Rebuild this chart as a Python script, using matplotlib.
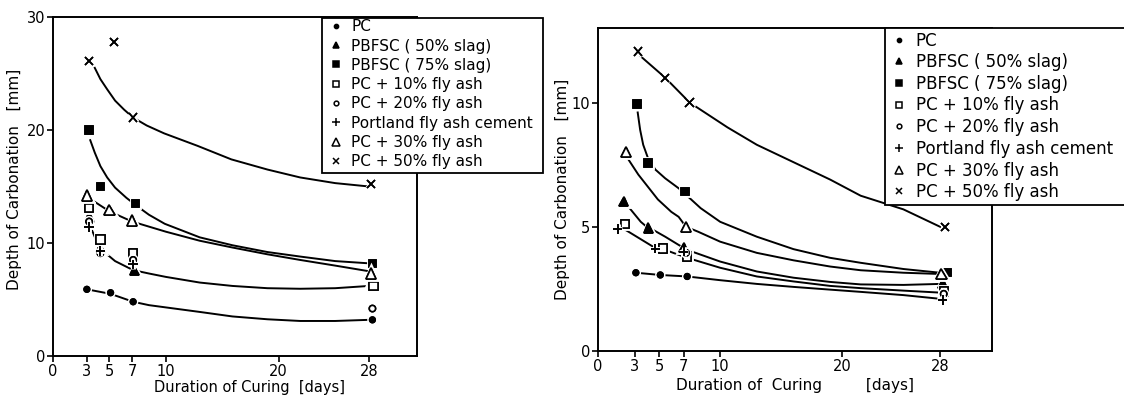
import matplotlib
matplotlib.use("Agg")
import matplotlib.pyplot as plt
import matplotlib.patheffects as pe
from matplotlib.lines import Line2D
from matplotlib.patches import Rectangle

# series names, same order in both panels
labels = ["PC", "PBFSC ( 50% slag)", "PBFSC ( 75% slag)", "PC + 10% fly ash",
          "PC + 20% fly ash", "Portland fly ash cement", "PC + 30% fly ash",
          "PC + 50% fly ash"]

# left panel: measured points (days, depth mm)
left_x = [[3.0, 5.1, 7.1, 28.3],
          [3.2, 4.2, 7.2, 28.3],
          [3.2, 4.2, 7.3, 28.3],
          [3.2, 4.2, 7.1, 28.4],
          [3.2, 4.2, 7.1, 28.3],
          [3.2, 4.2, 7.1],
          [3.0, 5.0, 7.0, 28.2],
          [3.2, 5.4, 7.1, 28.2]]
left_y = [[5.9, 5.6, 4.8, 3.2],
          [12.3, 9.5, 7.6, 6.7],
          [20.0, 15.0, 13.5, 8.2],
          [13.1, 10.3, 9.1, 6.2],
          [11.9, 9.1, 8.5, 4.2],
          [11.4, 9.3, 8.1],
          [14.2, 12.9, 12.0, 7.3],
          [26.1, 27.8, 21.1, 15.2]]

# left panel: fitted curves
left_fit_d = [[3.0, 5.1, 7.1, 8.5, 10, 13, 15.9, 19, 21.9, 25, 28],
              [3.3, 3.8, 4.3, 5.5, 7.1, 8.5, 10, 13, 15.9, 19, 21.9, 25, 28],
              [3.3, 3.7, 4.2, 4.8, 5.5, 6.5, 7.4, 8.5, 9.9, 13, 15.9, 19, 21.9, 25, 28],
              [3.3, 5.0, 7.0, 10, 13, 15.9, 19, 21.9, 25, 28],
              [3.7, 4.2, 4.8, 5.5, 6.3, 7.1, 8.3, 9.85, 12.8, 15.8, 19, 21.9, 25, 28]]
left_fit_v = [[5.9, 5.5, 4.8, 4.5, 4.3, 3.9, 3.5, 3.25, 3.1, 3.1, 3.2],
              [11.5, 10.3, 9.4, 8.4, 7.6, 7.3, 7.0, 6.5, 6.2, 6.0, 5.95, 6.0, 6.2],
              [19.1, 18.0, 16.8, 15.8, 14.9, 14.0, 13.3, 12.5, 11.7, 10.5, 9.8, 9.2, 8.8, 8.4, 8.2],
              [13.9, 12.8, 11.9, 11.0, 10.2, 9.6, 9.0, 8.5, 8.0, 7.5],
              [25.5, 24.5, 23.6, 22.6, 21.8, 21.1, 20.4, 19.7, 18.6, 17.4, 16.5, 15.8, 15.3, 15.0]]

# right panel: measured points
right_x = [[3.1, 5.1, 7.3, 28.2],
           [2.1, 4.1, 7.0, 28.2],
           [3.2, 4.1, 7.1, 28.6],
           [2.2, 5.3, 7.3, 28.3],
           [7.2, 28.3],
           [1.6, 4.7, 7.0, 28.2],
           [2.3, 7.2, 28.1],
           [3.25, 5.5, 7.5, 28.4]]
right_y = [[3.15, 3.06, 3.0, 2.1],
           [6.0, 4.95, 4.15, 2.73],
           [9.95, 7.57, 6.42, 3.16],
           [5.1, 4.12, 3.8, 2.4],
           [3.95, 2.3],
           [4.9, 4.12, 4.0, 2.05],
           [8.0, 5.0, 3.1],
           [12.06, 11.0, 10.0, 5.0]]

right_fit_d = [[3.1, 5.1, 7.3, 10, 13, 16, 19, 21.5, 25, 28],
               [1.8, 2.5, 3.5, 4.5, 5.5, 6.6, 7.3, 10, 13, 16, 19, 21.5, 25, 28],
               [2.1, 2.5, 3.5, 4.1, 4.6, 5.5, 6.6, 7.3, 10, 13, 16, 19, 21.5, 25, 28],
               [2.5, 3.3, 4.1, 4.9, 6.0, 6.6, 7.2, 8.2, 10, 13, 16, 19, 21.5, 25, 28],
               [3.25, 3.45, 3.7, 4.1, 4.7, 5.5, 6.6, 7.4, 8.4, 10, 13, 16, 19, 21.5, 25, 28],
               [3.4, 5.5, 7.5, 10.6, 13, 16, 19, 21.5, 25, 28]]
right_fit_v = [[3.15, 3.06, 3.0, 2.85, 2.7, 2.58, 2.47, 2.38, 2.25, 2.1],
               [5.0, 4.8, 4.5, 4.2, 4.07, 3.87, 3.75, 3.35, 3.0, 2.8, 2.62, 2.53, 2.43, 2.35],
               [6.0, 5.8, 5.2, 4.95, 4.85, 4.6, 4.27, 4.07, 3.6, 3.2, 2.95, 2.78, 2.68, 2.66, 2.7],
               [7.7, 7.1, 6.6, 6.1, 5.6, 5.4, 5.0, 4.8, 4.4, 3.95, 3.65, 3.4, 3.25, 3.15, 3.1],
               [9.6, 8.9, 8.3, 7.75, 7.3, 6.95, 6.55, 6.2, 5.75, 5.2, 4.6, 4.1, 3.75, 3.55, 3.3, 3.15],
               [11.9, 11.0, 10.0, 9.0, 8.3, 7.6, 6.9, 6.25, 5.7, 5.0]]

x_ticks = [0, 3, 5, 7, 10, 20, 28]

# marker style per series
mk = ["o", "^", "s", "s", "o", "+", "^", "x"]
filled = [True, True, True, False, False, True, False, True]
msize = [4, 6.5, 5.5, 6, 4.5, 7, 7.5, 6]

halo = [pe.withStroke(linewidth=3.5, foreground="white"), pe.Normal()]


def draw_panel(ax, xs, ys, fit_d, fit_v, ymax, yticks):
    for d, v in zip(fit_d, fit_v):
        ax.plot(d, v, color="black", lw=1.4, zorder=2)
    for i in range(len(labels)):
        face = "black" if filled[i] else "white"
        ax.plot(xs[i], ys[i], linestyle="none", marker=mk[i], ms=msize[i],
                mfc=face, mec="black", mew=1.2, zorder=3, path_effects=halo)
    ax.set_xlim(0, 32.25)
    ax.set_ylim(0, ymax)
    ax.set_xticks(x_ticks)
    ax.set_yticks(yticks)
    ax.tick_params(direction="out", length=4, width=1.2, labelsize=10.5, pad=1.5)
    for s in ax.spines.values():
        s.set_linewidth(1.4)


def make_legend(fig, box, anchor, fs, spacing, hl, tp):
    # white box drawn by hand so it can stick out past the axes / figure edge
    x0, y0, x1, y1 = box
    fig.patches.append(Rectangle((x0 / W, 1 - y1 / H), (x1 - x0) / W, (y1 - y0) / H,
                                 transform=fig.transFigure, facecolor="white",
                                 edgecolor="black", lw=1.3, zorder=4))
    handles = []
    for i, lab in enumerate(labels):
        face = "black" if filled[i] else "white"
        handles.append(Line2D([], [], linestyle="none", marker=mk[i], ms=msize[i] * 0.75,
                              mfc=face, mec="black", mew=1.1, label=lab))
    leg = fig.legend(handles=handles, loc="upper left", bbox_to_anchor=anchor,
                     fontsize=fs, frameon=False, borderpad=0.15,
                     labelspacing=spacing, handlelength=hl, handletextpad=tp,
                     borderaxespad=0)
    leg.set_zorder(5)
    return leg


W, H = 1124, 398
fig = plt.figure(figsize=(W / 100, H / 100), dpi=100)

axL = fig.add_axes([53 / W, 1 - 356 / H, (417 - 53) / W, (356 - 17) / H])
draw_panel(axL, left_x, left_y, left_fit_d, left_fit_v, 30, [0, 10, 20, 30])
axL.set_xlabel("Duration of Curing  [days]", fontsize=10.5)
axL.xaxis.set_label_coords(0.54, -0.072)
axL.set_ylabel("Depth of Carbonation   [mm]", fontsize=11)
axL.yaxis.set_label_coords(-0.085, 0.52)

axR = fig.add_axes([598 / W, 1 - 351 / H, (992 - 598) / W, (351 - 28) / H])
draw_panel(axR, right_x, right_y, right_fit_d, right_fit_v, 13, [0, 5, 10])
axR.set_xlabel("Duration of  Curing         [days]", fontsize=11)
axR.xaxis.set_label_coords(0.5, -0.085)
axR.set_ylabel("Depth of Carbonation   [mm]", fontsize=11)
axR.yaxis.set_label_coords(-0.07, 0.5)

make_legend(fig, (322, 18, 543, 173), (322 / W, 1 - 17 / H), 11, 0.28, 1.5, 0.25)
make_legend(fig, (885, 28, 1135, 205), (885 / W, 1 - 29 / H), 12, 0.22, 1.4, 0.3)

fig.savefig("out.png", dpi=100)
